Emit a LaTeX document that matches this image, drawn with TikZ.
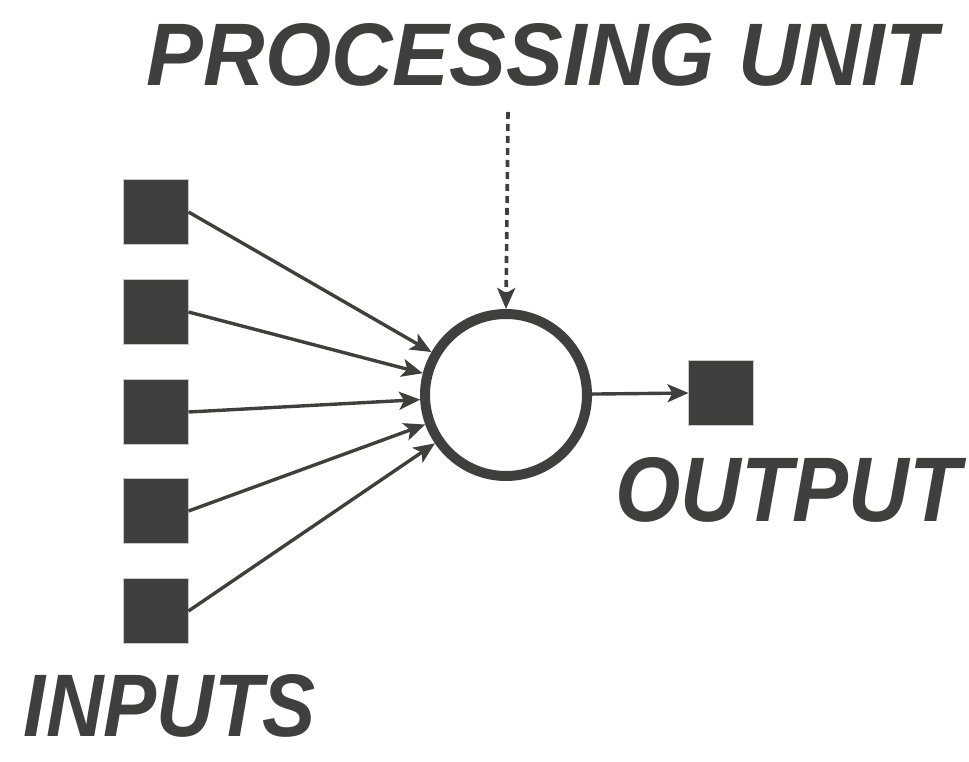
\documentclass[tikz,border=0pt]{standalone}
\usepackage{fontspec}
\setmainfont{Liberation Sans}
\usetikzlibrary{arrows.meta}
\definecolor{ink}{HTML}{3F3F3D}
\definecolor{rim}{HTML}{C8C8C8}
\tikzset{
  unitbox/.style={draw=rim, line width=1.5pt, fill=ink, minimum size=65pt, inner sep=0pt, outer sep=0pt},
  neuron/.style={circle, draw=ink, line width=10pt, minimum size=162pt, inner sep=0pt, fill=white},
  link/.style={draw=ink, line width=3.4pt, -{Stealth[length=21pt,width=18pt,inset=5pt]}},
  feed/.style={link, line width=3.6pt, dash pattern=on 7pt off 5pt},
  title/.style={text=ink, inner sep=0pt, font=\bfseries\itshape}
}
\begin{document}
\begin{tikzpicture}[x=1pt,y=-1pt]
\useasboundingbox (0,0) rectangle (969,762);
% input units
\node[unitbox] (i1) at (156,212) {};
\node[unitbox] (i2) at (156,312) {};
\node[unitbox] (i3) at (156,412) {};
\node[unitbox] (i4) at (156,511) {};
\node[unitbox] (i5) at (156,611) {};
% processing unit and output
\node[neuron] (p) at (506,395) {};
\node[unitbox] (o) at (721,393) {};
% labels
\node[title] (tp) at (542,55) {\resizebox{790pt}{62pt}{PROCESSING UNIT}};
\node[title] (to) at (788,490) {\resizebox{345pt}{64pt}{OUTPUT}};
\node[title] (ti) at (170,706) {\resizebox{292pt}{62pt}{INPUTS}};
\coordinate (src) at (508,112);
% connectors
\foreach \k in {1,...,5} \draw[link] (i\k.east) -- (p);
\draw[link] (p) -- (o.west);
\draw[feed] (src) -- (p.north);
\end{tikzpicture}
\end{document}
